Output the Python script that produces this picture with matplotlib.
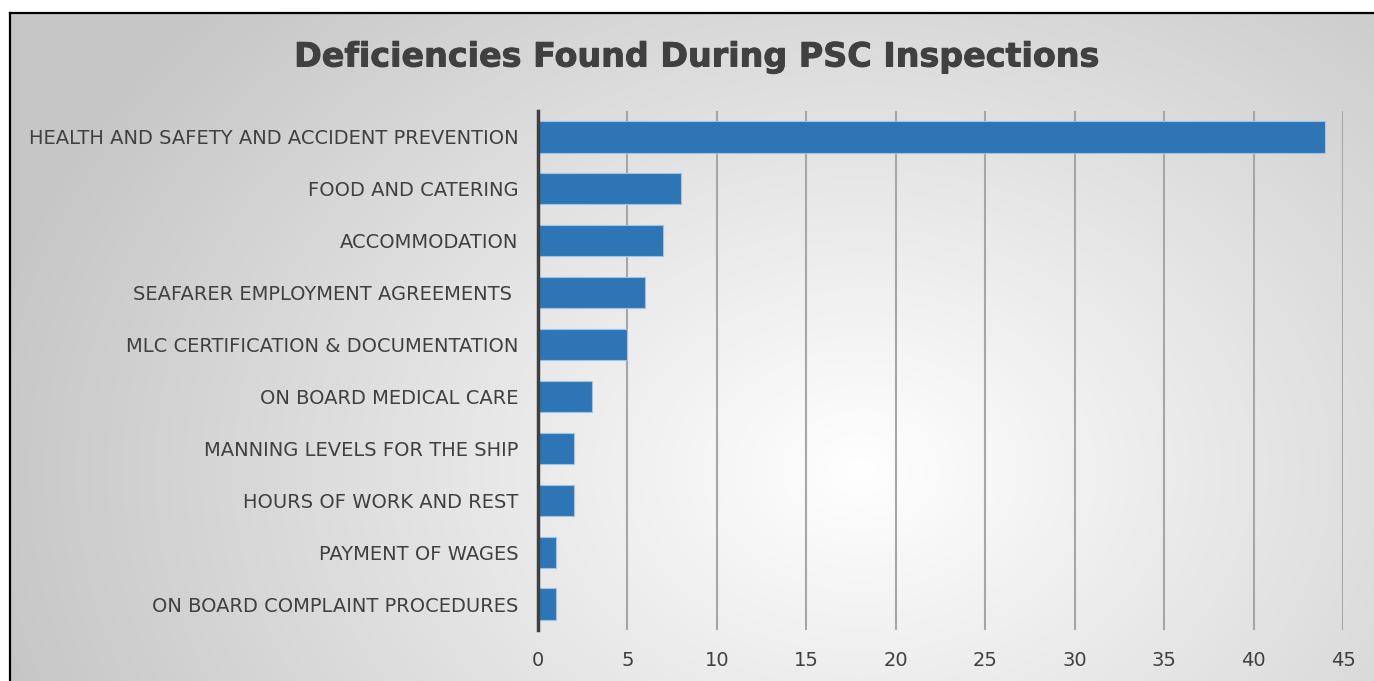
import numpy as np
import matplotlib
matplotlib.use("Agg")
import matplotlib.pyplot as plt
from matplotlib.lines import Line2D
import matplotlib.patheffects as pe

categories = [
    "HEALTH AND SAFETY AND ACCIDENT PREVENTION",
    "FOOD AND CATERING",
    "ACCOMMODATION",
    "SEAFARER EMPLOYMENT AGREEMENTS ",
    "MLC CERTIFICATION & DOCUMENTATION",
    "ON BOARD MEDICAL CARE",
    "MANNING LEVELS FOR THE SHIP",
    "HOURS OF WORK AND REST",
    "PAYMENT OF WAGES",
    "ON BOARD COMPLAINT PROCEDURES",
]
values = [44, 8, 7, 6, 5, 3, 2, 2, 1, 1]
xticks = [0, 5, 10, 15, 20, 25, 30, 35, 40, 45]
title = "Deficiencies Found During PSC Inspections"

W, H = 1374, 681
fig = plt.figure(figsize=(W / 100, H / 100), dpi=100)
fig.patch.set_facecolor("white")

# radial gradient background
bg = fig.add_axes([0, 0, 1, 1], zorder=0)
yy, xx = np.mgrid[0:H, 0:W]
cx, cy = 860, 470
d = np.sqrt((xx - cx) ** 2 + ((yy - cy) * 1.3) ** 2)
val = 1.0 - 0.22 * np.clip(d / 880, 0, 1)
img = np.dstack([val, val, val])
img[:12, :, :] = 1.0
img[:, :9, :] = 1.0
bg.imshow(img, extent=[0, W, H, 0], aspect="auto", interpolation="bilinear")
bg.set_xlim(0, W)
bg.set_ylim(H, 0)
bg.axis("off")
bg.add_line(Line2D([9.5, W], [12.5, 12.5], color="black", lw=1.6))
bg.add_line(Line2D([9.5, 9.5], [12.5, H], color="black", lw=1.6))

text_color = "#404040"
fam = ["DejaVu Sans"]

x0, x1 = 538, 1343
y_top, y_bot = 111, 630
ax = fig.add_axes([x0 / W, 1 - y_bot / H, (x1 - x0) / W, (y_bot - y_top) / H], zorder=1)
ax.set_facecolor("none")

ypos = np.arange(len(categories))
ax.barh(ypos, values, height=0.6, color="#2E75B6", edgecolor="#9DC3E6", linewidth=0.8, zorder=3)
ax.set_ylim(len(categories) - 0.5, -0.5)
ax.set_xlim(0, 45)
ax.set_xticks(xticks)
ax.set_xticklabels([str(t) for t in xticks], fontsize=14, color=text_color, family=fam)
ax.set_yticks(ypos)
ax.set_yticklabels(categories, fontsize=14, color=text_color, family=fam)
ax.tick_params(axis="both", length=0)
ax.tick_params(axis="x", pad=15)
ax.tick_params(axis="y", pad=14)
ax.grid(axis="x", color="#a6a6a6", lw=1.5, zorder=0)
for s in ["top", "right", "bottom"]:
    ax.spines[s].set_visible(False)
ax.spines["left"].set_color("#404040")
ax.spines["left"].set_linewidth(2.5)
ax.spines["left"].set_zorder(4)

fig.text(697 / W, 1 - 57 / H, title, ha="center", va="center", fontsize=24,
         fontweight="bold", color=text_color, family=fam,
         path_effects=[pe.withStroke(linewidth=0.7, foreground=text_color)])

fig.savefig("out.png", dpi=100)
